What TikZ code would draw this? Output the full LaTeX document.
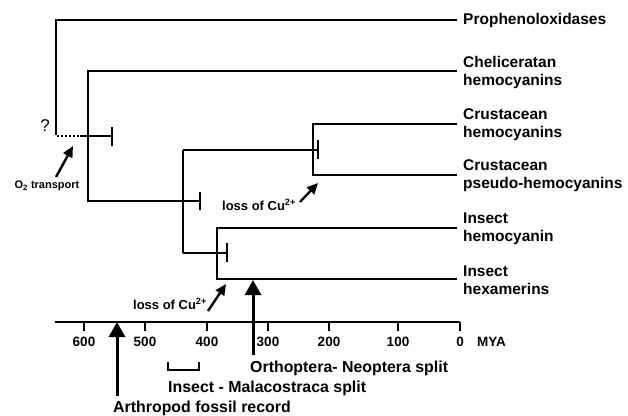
\documentclass[tikz,border=0pt]{standalone}
\usepackage{fontspec}
\setmainfont{Liberation Sans}
\usetikzlibrary{arrows.meta}
\tikzset{
  branch/.style={line width=2pt},
  leaf/.style={anchor=west, align=left, inner sep=0pt, font=\bfseries\fontsize{15.5}{18}\selectfont},
  event/.style={anchor=west, inner sep=0pt, font=\bfseries\fontsize{15.9}{18}\selectfont},
  tick/.style={inner sep=0pt, font=\bfseries\fontsize{13.5}{16}\selectfont},
  note/.style={inner sep=0pt, font=\bfseries\fontsize{13}{15}\selectfont},
  bigarrow/.style={line width=3pt, -{Triangle[width=16pt,length=15pt]}},
  smallarrow/.style={line width=2.4pt, -{Triangle[width=10pt,length=11pt]}}
}
\begin{document}
\begin{tikzpicture}[x=1pt,y=-1pt]
\useasboundingbox (0,0) rectangle (628,415);
% labels of the leaves
\node[leaf] (propo) at (463,20) {Prophenoloxidases};
\node[leaf] (chel) at (463,72) {Cheliceratan\\hemocyanins};
\node[leaf] (crhc) at (463,125) {Crustacean\\hemocyanins};
\node[leaf] (crps) at (463,176) {Crustacean\\pseudo-hemocyanins};
\node[leaf] (inhc) at (463,229) {Insect\\hemocyanin};
\node[leaf] (inhx) at (463,280) {Insect\\hexamerins};
% tree
\draw[branch] (457,20) -- (56,20) -- (56,135);
\draw[branch, dotted] (57,136) -- (80,136);
\draw[branch] (80,136) -- (112,136);
\draw[branch] (112,127) -- (112,146);
\draw[branch] (457,71) -- (88,71) -- (88,201) -- (200,201);
\draw[branch] (200,192) -- (200,210);
\draw[branch] (183,150) -- (183,253);
\draw[branch] (183,150) -- (318,150);
\draw[branch] (318,140) -- (318,159);
\draw[branch] (457,124) -- (313,124) -- (313,175) -- (457,175);
\draw[branch] (183,253) -- (227,253);
\draw[branch] (227,243) -- (227,262);
\draw[branch] (457,228) -- (217,228) -- (217,279) -- (457,279);
% time axis
\draw[branch] (55,322) -- (460,322);
\foreach \x/\t in {84/600,145/500,207/400,268/300,329/200,398/100,460/0}
  \draw[branch] (\x,322) -- (\x,331) node[tick, below=5pt] {\t};
\node[tick, anchor=west] (mya) at (477,342) {MYA};
% notes
\node[inner sep=0pt, font=\fontsize{17}{20}\selectfont] (quest) at (45,126) {?};
\node[inner sep=0pt, font=\bfseries\fontsize{11}{13}\selectfont] (otrans) at (47,186) {O\textsubscript{2} transport};
\coordinate (otail) at (56,177);
\coordinate (otip) at (73,146);
\draw[smallarrow] (otail) -- (otip);
\node[note] (cuA) at (259,205) {loss of Cu\textsuperscript{2+}};
\coordinate (cuAtail) at (300,202);
\coordinate (cuAtip) at (318,183);
\draw[smallarrow] (cuAtail) -- (cuAtip);
\node[note] (cuB) at (170,304) {loss of Cu\textsuperscript{2+}};
\coordinate (cuBtail) at (208,311);
\coordinate (cuBtip) at (226,284);
\draw[smallarrow] (cuBtail) -- (cuBtip);
% events below the axis
\node[event] (orth) at (250,368) {Orthoptera- Neoptera split};
\node[event] (inma) at (168,388) {Insect - Malacostraca split};
\node[event] (fossil) at (113,408) {Arthropod fossil record};
\coordinate (orthtip) at (253,280);
\coordinate (fossiltip) at (117,322);
\draw[bigarrow] (253,355) -- (orthtip);
\draw[bigarrow] (117,396) -- (fossiltip);
\draw[line width=1.6pt] (168,362) -- (168,370) -- (199,370) -- (199,362);
\end{tikzpicture}
\end{document}
